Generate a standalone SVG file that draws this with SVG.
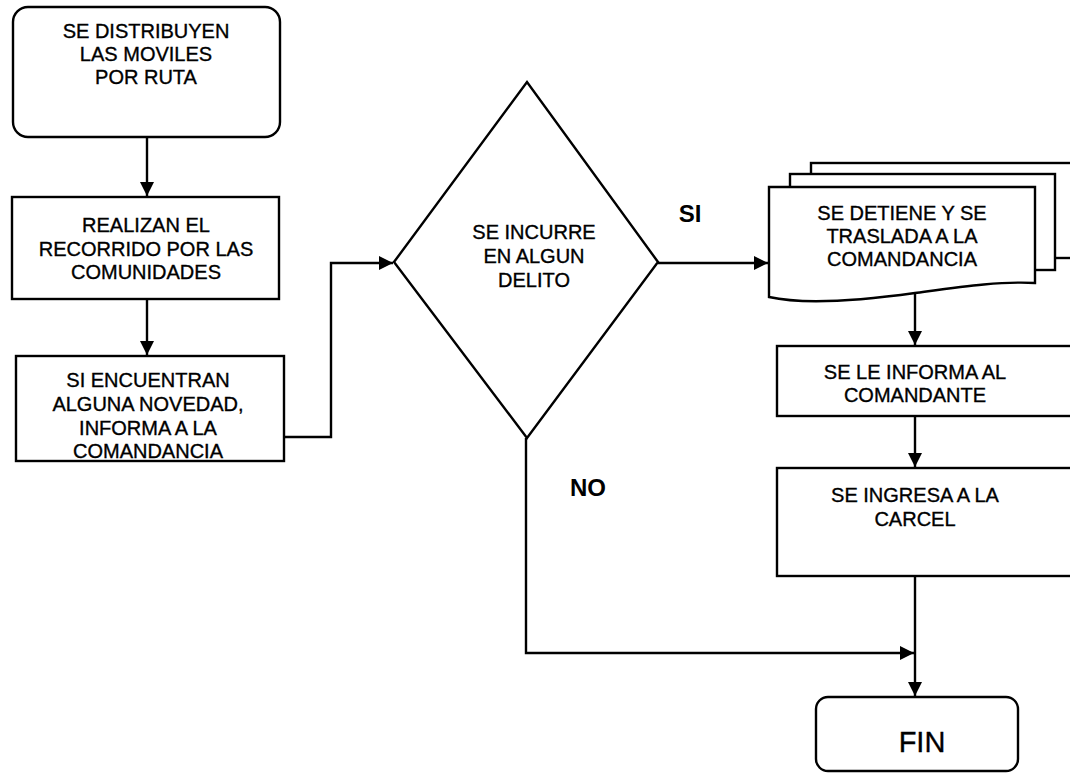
<svg xmlns="http://www.w3.org/2000/svg" width="1070" height="773" viewBox="0 0 1070 773">
<defs>
<marker id="arr" markerWidth="16" markerHeight="14" refX="14" refY="7" orient="auto" markerUnits="userSpaceOnUse">
<path d="M0,0 L14,7 L0,14 Z" fill="#000"/>
</marker>
<style>
.box{fill:#fff;stroke:#000;stroke-width:2.4}
.t{font-family:"Liberation Sans",Arial,sans-serif;font-size:20px;fill:#000;stroke:#000;stroke-width:0.35;text-anchor:middle;dominant-baseline:central}
.lb{font-family:"Liberation Sans",Arial,sans-serif;font-size:24px;font-weight:bold;fill:#000;text-anchor:middle;dominant-baseline:central}
.c{fill:none;stroke:#000;stroke-width:2.4}
</style>
</defs>
<rect width="1070" height="773" fill="#fff"/>
<g id="connectors">
<path class="c" d="M147,137 V196" marker-end="url(#arr)"/>
<path class="c" d="M147,299 V355" marker-end="url(#arr)"/>
<path class="c" d="M284,437 H331 V263 H393" marker-end="url(#arr)"/>
<path class="c" d="M658,263 H768" marker-end="url(#arr)"/>
<path class="c" d="M915,294 V345" marker-end="url(#arr)"/>
<path class="c" d="M915,416 V467" marker-end="url(#arr)"/>
<path class="c" d="M915,576 V696" marker-end="url(#arr)"/>
<path class="c" d="M526,438 V653 H914" marker-end="url(#arr)"/>
</g>
<g id="n1">
<rect class="box" x="13" y="7" width="267" height="130" rx="15"/>
<text class="t" x="146" y="31">SE DISTRIBUYEN</text>
<text class="t" x="146" y="54">LAS MOVILES</text>
<text class="t" x="146" y="77">POR RUTA</text>
</g>
<g id="n2">
<rect class="box" x="12" y="197" width="267" height="102"/>
<text class="t" x="146" y="225">REALIZAN EL</text>
<text class="t" x="146" y="249">RECORRIDO POR LAS</text>
<text class="t" x="146" y="272">COMUNIDADES</text>
</g>
<g id="n3">
<rect class="box" x="16" y="356" width="268" height="105"/>
<text class="t" x="148" y="380">SI ENCUENTRAN</text>
<text class="t" x="148" y="404">ALGUNA NOVEDAD,</text>
<text class="t" x="148" y="428">INFORMA A LA</text>
<text class="t" x="148" y="451">COMANDANCIA</text>
</g>
<g id="n4">
<polygon class="box" points="394,262 527,82 658,262 527,438"/>
<text class="t" x="534" y="232">SE INCURRE</text>
<text class="t" x="534" y="256">EN ALGUN</text>
<text class="t" x="534" y="280">DELITO</text>
</g>
<text class="lb" x="690" y="213">SI</text>
<text class="lb" x="588" y="487">NO</text>
<g id="n5">
<rect class="box" x="811" y="163" width="264" height="95"/>
<rect class="box" x="790" y="174" width="265" height="96"/>
<path class="box" d="M769,187 H1035 V283 C1000,281 960,287 915,293 C850,302 800,304 769,297 Z"/>
<text class="t" x="902" y="213">SE DETIENE Y SE</text>
<text class="t" x="902" y="236">TRASLADA A LA</text>
<text class="t" x="902" y="259">COMANDANCIA</text>
</g>
<g id="n6">
<rect class="box" x="777" y="346" width="300" height="70"/>
<text class="t" x="915" y="372">SE LE INFORMA AL</text>
<text class="t" x="915" y="395">COMANDANTE</text>
</g>
<g id="n7">
<rect class="box" x="777" y="468" width="300" height="108"/>
<text class="t" x="915" y="495">SE INGRESA A LA</text>
<text class="t" x="915" y="519">CARCEL</text>
</g>
<g id="n8">
<rect class="box" x="816" y="697" width="202" height="74" rx="12"/>
<text class="t" x="922" y="742" style="font-size:29px">FIN</text>
</g>
</svg>
